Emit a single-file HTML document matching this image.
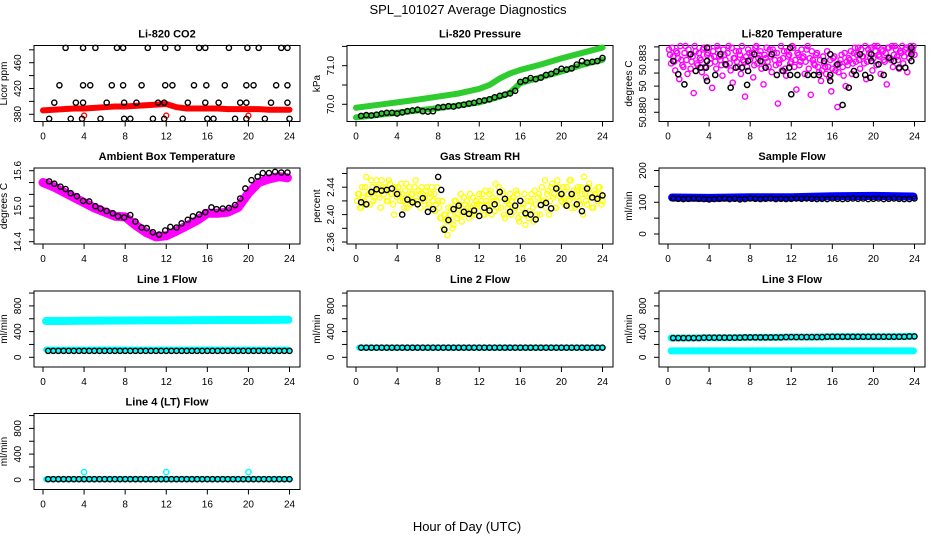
<!DOCTYPE html>
<html><head><meta charset="utf-8"><style>
html,body{margin:0;padding:0;background:#fff;}
svg{display:block;font-family:"Liberation Sans",sans-serif;}
</style></head><body>
<svg id="chart" width="936" height="540" viewBox="0 0 936 540" xmlns="http://www.w3.org/2000/svg">
<text x="468" y="14" text-anchor="middle" font-size="13">SPL_101027  Average Diagnostics</text>
<text x="467" y="531" text-anchor="middle" font-size="13">Hour of Day (UTC)</text>
</svg>
<script>
// ---- data ----
const xTicks=[0,4,8,12,16,20,24];
const co2TopH=[2.2,3.9,5.1,7.2,7.8,10.2,11.9,13.1,15.2,15.8,18.1,19.9,21.0,23.2,23.8];
const co2MidH=[1.6,3.9,4.6,6.7,7.8,9.6,11.9,12.6,14.7,15.9,17.7,19.8,20.5,22.7,23.8];
const co2LowH=[1.1,3.2,3.9,6.2,7.9,9.1,11.2,11.8,14.1,15.8,17.1,19.2,19.8,22.2,23.8];
const co2BotH=[0.6,2.7,3.8,5.6,7.9,8.5,10.7,11.8,13.6,16.0,16.6,18.7,19.8,21.6,24.0];
const co2Levels=[483,425,398,373];
const redH=[0,1,2,3,4,5,6,7,8,9,10,11,12,13,14,15,16,17,18,19,20,21,22,23,24];
const redV=[386,387,388,389,389,390,391,392,392,393,394,395,396,391,389,389,389,389,388,388,388,388,387,387,387];
const redOutH=[4,12,20];const redOutV=[378,378,378];
const presGH=[0,2,4,6,8,10,12,13,14,15,16,18,20,22,24];
const presGV=[69.91,69.98,70.05,70.12,70.2,70.28,70.40,70.5,70.67,70.8,70.89,71.03,71.19,71.33,71.47];
const presG2H=[0,2,4,6,8,10,12,14,15,16,18,20,22,24];
const presG2V=[69.66,69.72,69.78,69.84,69.9,69.97,70.05,70.2,70.3,70.55,70.7,70.85,71.02,71.15];
const presBV=[69.70,69.72,69.71,69.73,69.76,69.78,69.78,69.76,69.79,69.82,69.84,69.86,69.82,69.81,69.82,69.92,69.93,69.95,69.94,69.97,69.99,70.02,70.04,70.08,70.10,70.13,70.18,70.22,70.25,70.28,70.35,70.58,70.62,70.68,70.65,70.69,70.76,70.79,70.85,70.92,70.90,70.93,71.03,71.12,71.08,71.1,71.12,71.2];
const tempA=[3.6,2.8,3.2,2.4,3.4,1.9,3.0,2.6,3.8,2.2,3.3,2.9,1.1,3.5,2.7,3.1,2.3,3.7,2.0,3.4,2.8,1.4,3.2,2.5,3.6,3.0,2.1,3.3,2.7,3.8,2.4,1.7,3.1,2.9,3.5,2.2,3.0,0.9,2.6,3.4,3.2,2.0,3.7,2.8,3.3,2.5,1.6,3.1,2.9,3.6,2.3,3.4,2.7,0.5,3.0,2.4,3.5,2.1,3.2,2.8,3.8,2.6,1.3,3.3,2.9,3.1,2.2,3.6,2.5,1.0,3.0,2.7,3.4,2.3,1.8,3.2,2.6,3.5,2.0,1.2,3.1,2.4,0.3,2.8,3.3,2.1,1.5,2.7,3.0,2.2,3.4,2.9,3.7,2.5,3.2,2.8,1.9,3.6,3.1,2.4,3.8,2.7,3.3,2.2,3.5,2.9,1.6,3.7,3.0,2.6,3.8,3.2,2.5,3.4,2.8,3.6,2.3,3.1,3.5,3.8];
const tempB=[3.3,3.7,2.9,3.5,3.1,3.8,2.7,3.4,3.0,3.6,2.5,3.2,3.8,2.8,3.4,3.0,3.6,2.6,3.3,3.7,3.1,3.5,2.9,3.8,3.2,2.7,3.6,3.0,3.4,2.8,3.7,3.1,3.5,2.6,3.3,3.8,2.9,3.2,3.6,3.0,3.4,2.7,3.8,3.1,3.5,2.9,3.3,3.7,2.6,3.2,3.6,3.0,3.4,2.8,3.8,3.1,2.5,3.5,3.3,2.9,3.7,3.0,3.4,2.7,3.6,3.2,2.9,3.8,3.1,3.5,2.8,3.3,2.6,3.0,2.4,2.8,2.2,2.6,3.0,2.5,3.2,2.7,2.3,3.0,2.6,3.4,2.9,3.1,3.5,2.8,3.7,3.3,3.0,3.6,3.2,3.8,2.9,3.4,3.7,3.1,3.5,3.8,3.2,3.6,3.0,3.4,3.7,3.1,3.8,3.3,3.6,3.0,3.5,3.8,3.2,3.7,3.4,3.8,3.6,3.3];
const tempBlkH=[0.5,1.0,1.6,2.2,2.7,3.2,3.7,3.8,3.8,3.8,4.6,5.1,5.6,6.1,6.6,7.2,7.7,7.8,7.8,8.4,9.0,9.5,10.1,10.6,11.2,11.8,11.9,11.9,12.0,12.6,13.6,14.2,14.7,15.2,15.8,15.8,15.8,16.5,17.0,17.6,18.1,18.3,18.7,19.2,19.7,19.8,19.8,20.5,21.0,21.5,22.0,22.5,23.1,23.7,23.7,23.7];
const tempBlkV=[2.94,2.18,1.6,3.33,2.37,2.56,2.56,3.7,2.94,1.8,2.14,3.33,2.75,1.41,2.56,2.56,1.57,2.94,2.37,3.33,2.94,2.56,3.33,2.14,2.37,2.56,3.7,2.14,1.03,2.14,2.14,2.14,2.14,2.94,3.33,2.14,1.8,2.75,0.42,1.41,2.37,2.14,3.33,2.14,1.98,3.33,2.94,2.75,2.14,3.13,2.94,2.56,2.56,3.7,3.33,2.94];
const boxH=[0.6,1.1,1.7,2.2,2.7,3.3,3.9,4.5,5.1,5.6,6.2,6.8,7.3,7.9,8.5,9.0,9.6,10.1,10.7,11.3,11.9,12.4,13.0,13.5,14.1,14.6,15.2,15.8,16.4,16.9,17.5,18.1,18.7,19.2,19.7,20.3,20.9,21.4,22.0,22.6,23.2,23.8];
const boxV=[15.42,15.38,15.33,15.29,15.22,15.17,15.09,15.08,15.00,14.96,14.92,14.88,14.83,14.81,14.85,14.74,14.64,14.63,14.56,14.52,14.59,14.65,14.64,14.71,14.77,14.83,14.86,14.90,14.98,14.95,14.96,14.97,15.02,15.13,15.30,15.44,15.50,15.56,15.56,15.58,15.57,15.57];
const boxMagH=[0,1,2,3,4,5,6,7,8,9,10,11,12,13,14,15,16,17,18,19,20,21,22,23,23.8];
const boxMagV=[15.40,15.33,15.24,15.15,15.06,14.97,14.90,14.83,14.82,14.68,14.56,14.48,14.50,14.58,14.67,14.76,14.88,14.88,14.90,14.98,15.22,15.40,15.46,15.50,15.48];
const rhA=[2.42,2.43,2.41,2.425,2.44,2.415,2.43,2.45,2.42,2.435,2.44,2.425,2.45,2.43,2.44,2.42,2.445,2.43,2.40,2.435,2.44,2.42,2.43,2.41,2.445,2.425,2.415,2.43,2.44,2.42,2.435,2.41,2.43,2.425,2.44,2.415,2.43,2.42,2.405,2.44,2.41,2.395,2.38,2.40,2.37,2.39,2.41,2.385,2.42,2.40,2.415,2.39,2.425,2.405,2.41,2.43,2.40,2.415,2.42,2.405,2.415,2.43,2.40,2.42,2.41,2.435,2.425,2.405,2.42,2.44,2.41,2.43,2.395,2.42,2.415,2.40,2.425,2.41,2.43,2.39,2.40,2.415,2.385,2.42,2.405,2.43,2.39,2.415,2.425,2.40,2.44,2.42,2.41,2.435,2.42,2.445,2.43,2.41,2.44,2.425,2.43,2.415,2.44,2.42,2.45,2.425,2.41,2.435,2.42,2.44,2.40,2.43,2.415,2.445,2.425,2.41,2.43,2.42,2.44,2.415];
const rhB=[2.43,2.41,2.44,2.42,2.455,2.43,2.415,2.44,2.425,2.45,2.43,2.41,2.44,2.435,2.42,2.45,2.43,2.415,2.44,2.425,2.43,2.445,2.42,2.435,2.41,2.44,2.43,2.42,2.45,2.415,2.43,2.44,2.42,2.435,2.41,2.425,2.44,2.43,2.415,2.42,2.395,2.42,2.40,2.39,2.41,2.40,2.38,2.42,2.395,2.41,2.43,2.40,2.415,2.42,2.395,2.41,2.425,2.40,2.415,2.43,2.42,2.40,2.435,2.415,2.43,2.40,2.42,2.445,2.41,2.425,2.435,2.40,2.42,2.41,2.43,2.42,2.405,2.435,2.395,2.42,2.41,2.43,2.40,2.395,2.42,2.41,2.435,2.40,2.43,2.415,2.42,2.45,2.43,2.40,2.44,2.425,2.41,2.45,2.435,2.42,2.44,2.42,2.43,2.45,2.41,2.435,2.425,2.44,2.415,2.43,2.455,2.42,2.44,2.43,2.41,2.435,2.425,2.44,2.43,2.42];
const rhBlkH=[0.5,1.0,1.5,2.0,2.5,3.0,3.5,4.0,4.5,5.0,5.5,6.0,6.5,7.0,7.5,8.0,8.3,8.6,9.0,9.5,10.0,10.5,11.0,11.5,12.0,12.5,13.0,13.5,14.0,14.5,15.0,15.5,16.0,16.5,17.0,17.5,18.0,18.5,19.0,19.5,20.0,20.5,21.0,21.5,22.0,22.5,23.0,23.5,24.0];
const rhBlkV=[2.418,2.415,2.433,2.437,2.435,2.436,2.438,2.430,2.400,2.422,2.418,2.415,2.424,2.404,2.408,2.455,2.436,2.378,2.392,2.408,2.413,2.404,2.401,2.406,2.398,2.410,2.406,2.415,2.433,2.423,2.404,2.413,2.420,2.402,2.400,2.393,2.414,2.417,2.409,2.438,2.430,2.413,2.430,2.415,2.405,2.438,2.425,2.423,2.428];
const sfBlueH=[0.4,4,8,12,16,20,23.9];
const sfBlueV=[115,114,116,116,119,120,118];
const sfBlkV=[112,111,110,111,112,111,110,109,110,111,112,110,111,109,110,112,111,110,111,112,110,111,110,111,112,111,112,111,110,111,110,112,111,110,111,112,111,112,110,111,112,110,111,112,111,110,110,112];
const l1CyanV=[565,565,568,570,572,574,575,576,578,580,580,582,584];
const l1LowV=[100,100,100,100,100,100,100,100,100,100,100,100,100];
const l1Cyan2V=[120,118,120,122,120,120,120,120,122,120,120,118,120];
const bandH=[0.3,2,4,6,8,10,12,14,16,18,20,22,23.9];
const l2V=[150,150,150,150,150,150,150,150,150,150,150,150,150];
const l3HighV=[300,300,305,305,310,310,315,315,320,320,320,320,325];
const l3LowV=[100,100,100,100,100,100,100,100,100,100,100,100,100];
const l4V=[10,10,10,10,10,10,10,10,10,10,10,10,10];
const l4OutH=[4,12,20];const l4OutV=[120,120,120];

// ---- drawing ----
const svg=document.getElementById('chart');
const NS='http://www.w3.org/2000/svg';
function mk(tag,at,parent){const e=document.createElementNS(NS,tag);for(const k in at)e.setAttribute(k,at[k]);(parent||svg).appendChild(e);return e;}
const lefts=[34,347,659],tops=[45.5,168,291,413.5],W=266,H=76;
function halfHours(n){const a=[];for(let i=0;i<n;i++)a.push(0.5+i*0.5);return a;}
function grid(n,s,o){const a=[];for(let i=0;i<n;i++)a.push(o+i*s);return a;}

function panel(name,col,row,title,ytitle,ylo,yhi,yt,ytl){
  const g=mk('g',{});
  
  
  const L=lefts[col],T=tops[row],B=T+H;
  const sx=h=>L+9+h/24*246.5;
  const sy=v=>B-(v-ylo)/(yhi-ylo)*H;
  const t=mk('text',{x:L+W/2,y:T-8,'text-anchor':'middle','font-size':'11','font-weight':'bold'},g);t.textContent=title;
  
  
  const fr=mk('rect',{x:L,y:T,width:W,height:H,fill:'none',stroke:'#000','stroke-width':1},g);
  
  
  xTicks.forEach(h=>{mk('line',{x1:sx(h),x2:sx(h),y1:B,y2:B+5,stroke:'#000'},g);
    const tx=mk('text',{x:sx(h),y:B+18,'text-anchor':'middle','font-size':'10'},g);tx.textContent=h;
    
    });
  yt.forEach((v,i)=>{mk('line',{x1:L-5,x2:L,y1:sy(v),y2:sy(v),stroke:'#000'},g);
    if(ytl[i]){const cx=L-13,cy=sy(v);const tx=mk('text',{x:cx,y:cy,'text-anchor':'middle','font-size':'10',transform:`rotate(-90 ${cx} ${cy})`},g);tx.textContent=ytl[i];
    
    }});
  const yx=L-27,yy=T+H/2;
  const yl=mk('text',{x:yx,y:yy,'text-anchor':'middle','font-size':'10',transform:`rotate(-90 ${yx} ${yy})`},g);yl.textContent=ytitle;
  
  
  return {g,sx,sy};
}
function pts(p,hs,vs,col,r,sw,nm){const g=mk('g',{},p.g);
  
  
  hs.forEach((h,i)=>mk('circle',{cx:p.sx(h),cy:p.sy(vs[i]),r:r,fill:'none',stroke:col,'stroke-width':sw},g));}
function band(p,hs,vs,col,w,nm){const e=mk('polyline',{points:hs.map((h,i)=>p.sx(h)+','+p.sy(vs[i])).join(' '),fill:'none',stroke:col,'stroke-width':w,'stroke-linejoin':'round','stroke-linecap':'round'},p.g);
  
  }

// CO2
let p=panel('co2',0,0,'Li-820 CO2','Licor ppm',368.8,486.7,[380,400,420,440,460,480],['380','','420','','460','']);
band(p,redH,redV,'#f00',6,'co2-red-series');
pts(p,redOutH,redOutV,'#f00',2.5,1.3,'co2-red-outliers');
[co2TopH,co2MidH,co2LowH,co2BotH].forEach((hs,k)=>pts(p,hs,hs.map(()=>co2Levels[k]),'#000',2.6,1.4,'co2-black-points'));
// Pressure
p=panel('pressure',1,0,'Li-820 Pressure','kPa',69.554,71.523,[70,70.5,71,71.5],['70.0','','71.0','']);
band(p,presGH,presGV,'#2ecc2e',6,'pressure-green-upper');
band(p,presG2H,presG2V,'#2ecc2e',6,'pressure-green-lower');
pts(p,halfHours(48),presBV,'#000',2.6,1.4,'pressure-black-points');
// Li-820 temperature
p=panel('li820-temp',2,0,'Li-820 Temperature','degrees C',-0.53,3.83,[0,0.75,1.5,2.25,3,3.75],['50.880','','50','','50.883','']);
pts(p,grid(120,0.2,0.1),tempA,'#f0f',2.6,1.4,'li820-temp-magenta-a');
pts(p,grid(120,0.2,0.2),tempB,'#f0f',2.6,1.4,'li820-temp-magenta-b');
pts(p,tempBlkH,tempBlkV,'#000',2.6,1.5,'li820-temp-black-points');
// Ambient box
p=panel('ambient-box',0,1,'Ambient Box Temperature','degrees C',14.361,15.646,[14.4,14.6,14.8,15.0,15.2,15.4,15.6],['14.4','','','15.0','','','15.6']);
band(p,boxMagH,boxMagV,'#f0f',9,'ambient-box-magenta');
pts(p,boxH,boxV,'#000',2.6,1.4,'ambient-box-black-points');
// RH
p=panel('gas-rh',1,1,'Gas Stream RH','percent',2.3571,2.468,[2.36,2.38,2.40,2.42,2.44,2.46],['2.36','','2.40','','2.44','']);
pts(p,grid(120,0.2,0.1),rhA,'#ff0',2.6,1.3,'gas-rh-yellow-a');
pts(p,grid(120,0.2,0.2),rhB,'#ff0',2.6,1.3,'gas-rh-yellow-b');
pts(p,rhBlkH,rhBlkV,'#000',2.6,1.4,'gas-rh-black-points');
// Sample flow
p=panel('sample-flow',2,1,'Sample Flow','ml/min',-31.5,208,[0,50,100,150,200],['0','','100','','200']);
band(p,sfBlueH,sfBlueV,'#00f',8,'sample-flow-blue');
pts(p,halfHours(48),sfBlkV,'#000',2.6,1.4,'sample-flow-black-points');
// Line flows
const lt=[0,200,400,600,800,1000],ltl=['0','','400','','800',''];
p=panel('line1-flow',0,2,'Line 1 Flow','ml/min',-151,1032,lt,ltl);
band(p,bandH,l1CyanV,'#0ff',8,'line1-cyan-high');
band(p,bandH,l1Cyan2V,'#0ff',6,'line1-cyan-low');
pts(p,halfHours(48),halfHours(48).map(()=>l1LowV[0]),'#000',2.6,1.4,'line1-black-points');
p=panel('line2-flow',1,2,'Line 2 Flow','ml/min',-151,1032,lt,ltl);
band(p,bandH,l2V,'#0ff',6,'line2-cyan');
pts(p,halfHours(48),halfHours(48).map(()=>l2V[0]),'#000',2.6,1.4,'line2-black-points');
p=panel('line3-flow',2,2,'Line 3 Flow','ml/min',-151,1032,lt,ltl);
band(p,bandH,l3HighV,'#0ff',7,'line3-cyan-high');
band(p,bandH,l3LowV,'#0ff',7,'line3-cyan-low');
pts(p,halfHours(48),halfHours(48).map((h,i)=>l3HighV[Math.min(12,Math.round(i/4))]),'#000',2.6,1.4,'line3-black-points');
p=panel('line4-flow',0,3,'Line 4 (LT) Flow','ml/min',-151,1032,lt,ltl);
band(p,bandH,l4V,'#0ff',6,'line4-cyan');
pts(p,l4OutH,l4OutV,'#0ff',2.6,1.4,'line4-cyan-outliers');
pts(p,halfHours(48),halfHours(48).map(()=>l4V[0]),'#000',2.6,1.4,'line4-black-points');
</script>
</body></html>
